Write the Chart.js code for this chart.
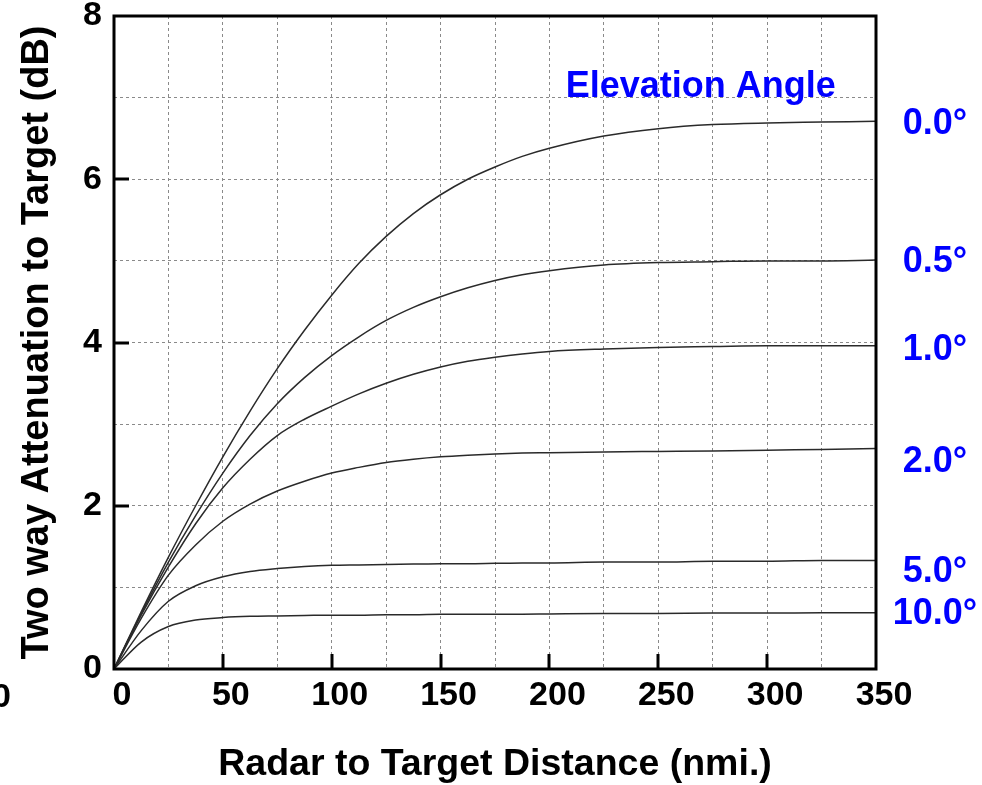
<!DOCTYPE html>
<html>
<head>
<meta charset="utf-8">
<script src="https://cdn.jsdelivr.net/npm/chart.js@4/dist/chart.umd.min.js"></script>
<style>
html,body{margin:0;padding:0;background:#fff;}
#wrap{position:relative;width:982px;height:785px;}
</style>
</head>
<body>
<div id="wrap"><canvas id="c"></canvas></div>
<script>
// ---- data ----
const distance = [0, 12.5, 25, 37.5, 50, 62.5, 75, 87.5, 100, 112.5, 125, 137.5, 150, 162.5, 175, 187.5, 200, 225, 250, 275, 300, 325, 350];
const att0_0  = [0, 0.70, 1.37, 2.00, 2.60, 3.16, 3.68, 4.15, 4.58, 4.97, 5.30, 5.58, 5.81, 6.00, 6.15, 6.28, 6.38, 6.53, 6.62, 6.67, 6.69, 6.70, 6.71];
const att0_5  = [0, 0.68, 1.31, 1.88, 2.40, 2.86, 3.25, 3.57, 3.84, 4.07, 4.27, 4.43, 4.56, 4.67, 4.76, 4.83, 4.88, 4.95, 4.98, 4.99, 5.00, 5.00, 5.01];
const att1_0  = [0, 0.66, 1.25, 1.78, 2.22, 2.57, 2.86, 3.06, 3.22, 3.37, 3.50, 3.61, 3.70, 3.77, 3.82, 3.86, 3.89, 3.92, 3.94, 3.95, 3.96, 3.96, 3.96];
const att2_0  = [0, 0.62, 1.15, 1.52, 1.81, 2.02, 2.18, 2.30, 2.40, 2.47, 2.53, 2.57, 2.60, 2.62, 2.635, 2.645, 2.65, 2.66, 2.665, 2.67, 2.68, 2.69, 2.70];
const att5_0  = [0, 0.47, 0.83, 1.02, 1.13, 1.195, 1.23, 1.255, 1.27, 1.275, 1.28, 1.285, 1.29, 1.29, 1.295, 1.30, 1.30, 1.31, 1.31, 1.32, 1.32, 1.33, 1.33];
const att10_0 = [0, 0.33, 0.52, 0.60, 0.63, 0.645, 0.65, 0.655, 0.66, 0.66, 0.665, 0.665, 0.67, 0.67, 0.67, 0.672, 0.675, 0.68, 0.68, 0.685, 0.685, 0.69, 0.69];
const angleLabels = ['0.0°', '0.5°', '1.0°', '2.0°', '5.0°', '10.0°'];
const angleLabelValues = [6.68, 4.99, 3.91, 2.54, 1.19, 0.67];
const xTickStep = 25, xLabelStep = 50;
const yTickStep = 1, yLabelStep = 2;

const series = [att0_0, att0_5, att1_0, att2_0, att5_0, att10_0];
const datasets = series.map((s, i) => ({
  label: angleLabels[i],
  data: distance.map((d, j) => ({x: d, y: s[j]})),
  borderColor: '#2a2a2a',
  borderWidth: 1.5,
  pointRadius: 0,
  cubicInterpolationMode: 'monotone',
  fill: false
}));

const FONT = '"Liberation Sans", Arial, sans-serif';

const decor = {
  id: 'decor',
  afterDatasetsDraw(chart) {
    const {ctx, chartArea: a, scales: {x, y}} = chart;
    ctx.save();
    ctx.setLineDash([]);
    ctx.strokeStyle = '#000';
    ctx.lineWidth = 3;
    for (let v = xLabelStep; v < 350; v += xLabelStep) {
      const px = Math.round(x.getPixelForValue(v));
      ctx.beginPath(); ctx.moveTo(px, a.bottom); ctx.lineTo(px, a.bottom - 15); ctx.stroke();
    }
    for (let v = yLabelStep; v < 8; v += yLabelStep) {
      const py = Math.round(y.getPixelForValue(v));
      ctx.beginPath(); ctx.moveTo(a.left, py); ctx.lineTo(a.left + 15, py); ctx.stroke();
    }
    ctx.strokeRect(a.left, a.top, a.right - a.left, a.bottom - a.top);
    ctx.fillStyle = '#0000ff';
    ctx.font = 'bold 36px ' + FONT;
    ctx.textAlign = 'center';
    ctx.textBaseline = 'middle';
    ctx.fillText('Elevation Angle', x.getPixelForValue(269.5), y.getPixelForValue(7.13));
    angleLabels.forEach((t, i) => {
      ctx.fillText(t, a.right + 59, y.getPixelForValue(angleLabelValues[i]));
    });
    ctx.fillStyle = '#000';
    ctx.font = 'bold 34px ' + FONT;
    ctx.textAlign = 'right';
    ctx.fillText('0', 11, 698);
    ctx.restore();
  }
};

new Chart(document.getElementById('c'), {
  type: 'line',
  data: {datasets},
  options: {
    responsive: true,
    maintainAspectRatio: false,
    animation: false,
    layout: {padding: {top: 16, right: 106, left: 0, bottom: 0}},
    plugins: {legend: {display: false}, tooltip: {enabled: false}},
    scales: {
      x: {
        type: 'linear', min: 0, max: 350,
        border: {display: false, dash: [3, 3]},
        grid: {color: '#8a8a8a', lineWidth: 1, drawTicks: false},
        ticks: {
          stepSize: xTickStep, padding: 10, color: '#000', maxRotation: 0, autoSkip: false, labelOffset: 8,
          font: {family: FONT, size: 34, weight: 'bold', lineHeight: 1},
          callback: v => (v % xLabelStep === 0 ? String(v) : '')
        },
        title: {display: true, text: 'Radar to Target Distance (nmi.)', color: '#000',
          font: {family: FONT, size: 37.5, weight: 'bold', lineHeight: 1}, padding: {top: 0, bottom: 2}},
        afterFit(s) { s.height = 116; s.paddingLeft = 0; s.paddingRight = 0; }
      },
      y: {
        type: 'linear', min: 0, max: 8,
        border: {display: false, dash: [3, 3]},
        grid: {color: '#8a8a8a', lineWidth: 1, drawTicks: false},
        ticks: {
          stepSize: yTickStep, padding: 12, color: '#000',
          font: {family: FONT, size: 34, weight: 'bold', lineHeight: 1},
          callback: v => (v % yLabelStep === 0 ? String(v) : '')
        },
        title: {display: true, text: 'Two way Attenuation to Target (dB)', color: '#000',
          font: {family: FONT, size: 38, weight: 'bold', lineHeight: 1}, padding: {top: 19, bottom: 0}},
        afterFit(s) { s.width = 114; s.paddingTop = 0; s.paddingBottom = 0; }
      }
    }
  },
  plugins: [decor]
});
</script>
</body>
</html>
